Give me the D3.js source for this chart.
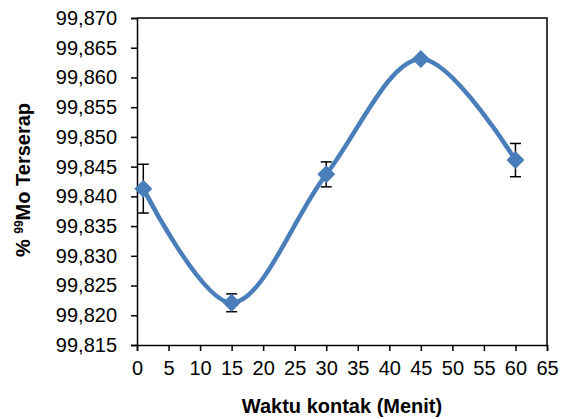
<!DOCTYPE html>
<html>
<head>
<meta charset="utf-8">
<script src="https://cdn.jsdelivr.net/npm/d3@7"></script>
<style>
  body { margin: 0; background: #fff; }
  text { font-family: Arial, "Liberation Sans", sans-serif; }
</style>
</head>
<body>
<svg id="chart"></svg>
<script>
// data
var times = [1, 15, 30, 45, 60];
var absorbed = [99.8413, 99.8221, 99.8437, 99.8631, 99.8461];
var errors = [0.0041, 0.0015, 0.0021, 0.0004, 0.0028];
var xTicks = [0, 5, 10, 15, 20, 25, 30, 35, 40, 45, 50, 55, 60, 65];
var yTicks = [99.815, 99.820, 99.825, 99.830, 99.835, 99.840, 99.845, 99.850, 99.855, 99.860, 99.865, 99.870];

function main() {
    const width = 566;
    const height = 419;
    const left = 137, right = 547, top = 18, bottom = 345;
    const blue = '#4a7ebb';

    const svg = d3.select('#chart')
        .attr('width', width)
        .attr('height', height);

    var x = d3.scaleLinear().domain([0, 65]).range([left, right]);
    var y = d3.scaleLinear().domain([99.815, 99.870]).range([bottom, top]);

    var fmt = v => d3.format('.3f')(v).replace('.', ',');

    // frame lines top/right
    svg.append('path')
        .attr('d', `M${left},${top}H${right}V${bottom}`)
        .attr('fill', 'none')
        .attr('stroke', '#000')
        .attr('stroke-width', 1.5);

    // axes
    var yAxis = svg.append('g')
        .attr('transform', `translate(${left},0)`)
        .call(d3.axisLeft(y).tickValues(yTicks).tickFormat(fmt).tickSize(6).tickPadding(14));
    var xAxis = svg.append('g')
        .attr('transform', `translate(0,${bottom})`)
        .call(d3.axisBottom(x).tickValues(xTicks).tickSize(6).tickPadding(10));

    [xAxis, yAxis].forEach(function(g) {
        g.select('.domain').attr('stroke', '#000').attr('stroke-width', 1.5);
        g.selectAll('.tick line').attr('stroke', '#000').attr('stroke-width', 1.5);
        g.selectAll('.tick text')
            .attr('fill', '#000')
            .style('font-size', '20px')
            .style('font-family', 'Arial, "Liberation Sans", sans-serif');
    });

    // smoothed line
    var pts = times.map((t, i) => [t, absorbed[i]]);
    var line = d3.line()
        .x(d => x(d[0]))
        .y(d => y(d[1]))
        .curve(d3.curveCatmullRom.alpha(0.5));

    svg.append('path')
        .datum(pts)
        .attr('d', line)
        .attr('fill', 'none')
        .attr('stroke', blue)
        .attr('stroke-width', 4.5);

    // error bars
    var eb = svg.append('g').attr('stroke', '#000').attr('stroke-width', 1.5);
    times.forEach(function(t, i) {
        var cx = x(t);
        var y1 = y(absorbed[i] + errors[i]);
        var y2 = y(absorbed[i] - errors[i]);
        eb.append('line').attr('x1', cx).attr('x2', cx).attr('y1', y1).attr('y2', y2);
        eb.append('line').attr('x1', cx - 5.5).attr('x2', cx + 5.5).attr('y1', y1).attr('y2', y1);
        eb.append('line').attr('x1', cx - 5.5).attr('x2', cx + 5.5).attr('y1', y2).attr('y2', y2);
    });

    // diamond markers
    svg.selectAll('.marker')
        .data(pts)
        .join('path')
        .attr('class', 'marker')
        .attr('transform', d => `translate(${x(d[0])},${y(d[1])})`)
        .attr('d', 'M0,-9L9,0L0,9L-9,0Z')
        .attr('fill', blue);

    // axis titles
    svg.append('text')
        .attr('x', 342)
        .attr('y', 413)
        .attr('text-anchor', 'middle')
        .style('font-size', '20px')
        .style('font-weight', 'bold')
        .text('Waktu kontak (Menit)');

    var yt = svg.append('text')
        .attr('transform', 'translate(30,180) rotate(-90)')
        .attr('text-anchor', 'middle')
        .style('font-size', '20px')
        .style('font-weight', 'bold');
    yt.append('tspan').text('% ');
    yt.append('tspan').attr('dy', -7).style('font-size', '12px').text('99');
    yt.append('tspan').attr('dy', 7).text('Mo Terserap');
}
main();
</script>
</body>
</html>
